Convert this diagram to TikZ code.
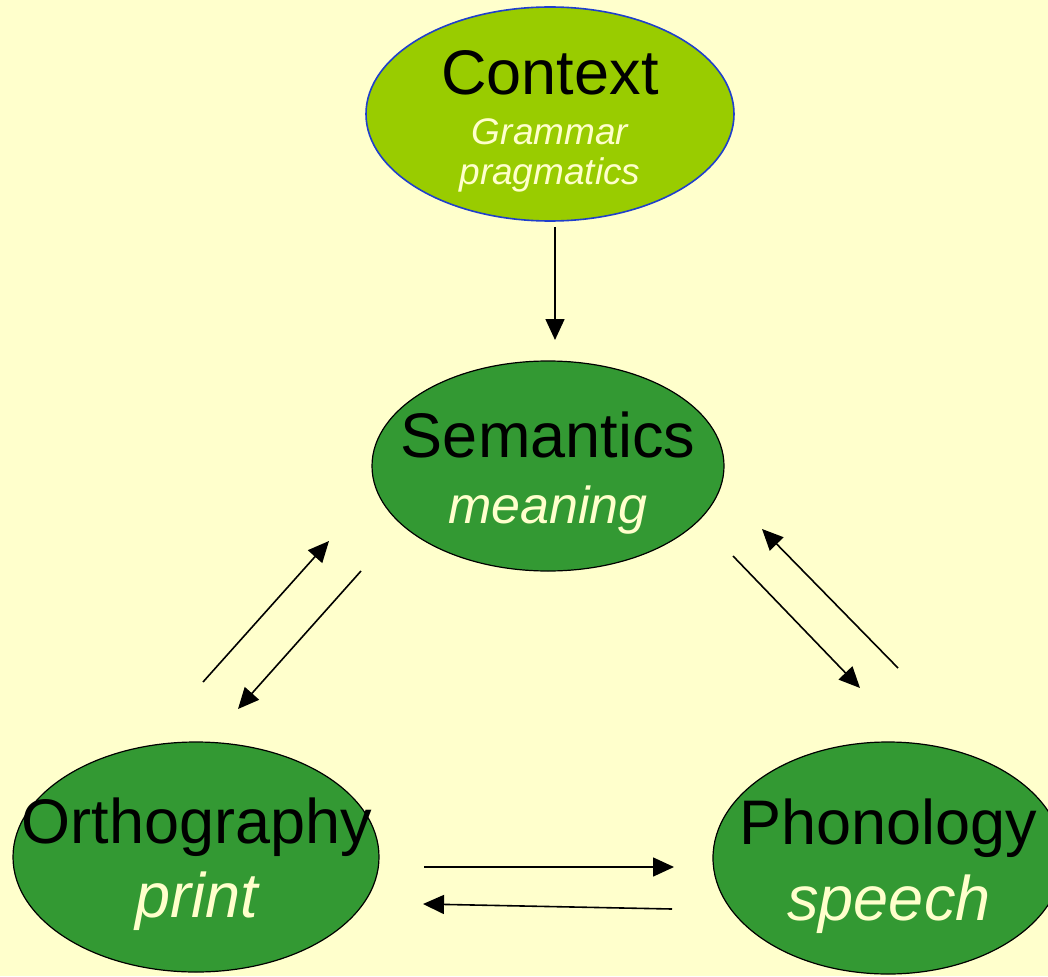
\documentclass[tikz,border=0pt]{standalone}
\usepackage{fontspec}
\setmainfont{Liberation Sans}
\usetikzlibrary{shapes.geometric,arrows.meta}
\definecolor{bgcream}{HTML}{FFFFCC}
\definecolor{ctxgreen}{HTML}{99CC00}
\definecolor{darkgreen}{HTML}{339933}
\definecolor{ctxblue}{HTML}{1F3FCC}
\tikzset{
  bubble/.style={ellipse, draw=black, line width=1.2pt, fill=darkgreen, inner sep=0pt},
  bigtext/.style={anchor=base, inner sep=0pt, text=black, font=\fontsize{63}{70}\selectfont},
  subtext/.style={anchor=base, inner sep=0pt, text=bgcream, font=\fontsize{63}{70}\selectfont\itshape},
  medtext/.style={anchor=base, inner sep=0pt, text=bgcream, font=\fontsize{52}{60}\selectfont\itshape},
  smalltext/.style={anchor=base, inner sep=0pt, text=bgcream, font=\fontsize{37}{44}\selectfont\itshape},
  link/.style={line width=1.6pt, -{Triangle[length=21pt,width=19pt]}}
}
\begin{document}
\begin{tikzpicture}[x=1pt,y=-1pt]
\fill[bgcream] (0,0) rectangle (1048,976);
\useasboundingbox (0,0) rectangle (1048,976);
% ellipses
\node[ellipse, draw=ctxblue, line width=1.6pt, fill=ctxgreen, inner sep=0pt, minimum width=368pt, minimum height=214pt] (ctx) at (550,114) {};
\node[bubble, minimum width=352pt, minimum height=210pt] (sem) at (548,466) {};
\node[bubble, minimum width=366pt, minimum height=230pt] (ort) at (196,857) {};
\node[bubble, minimum width=350pt, minimum height=232pt] (pho) at (888,858) {};
% texts
\node[bigtext] (ctxt) at (550,95) {Context};
\node[smalltext] (ctxa) at (550,145) {Grammar};
\node[smalltext] (ctxb) at (550,185) {pragmatics};
\node[bigtext] (semt) at (548,457) {Semantics};
\node[medtext] (sema) at (548,523) {meaning};
\node[bigtext] (ortt) at (197,843) {Orthography};
\node[subtext] (orta) at (197,917) {print};
\node[bigtext] (phot) at (888,844) {Phonology};
\node[subtext] (phoa) at (889,920) {speech};
% arrow end points
\coordinate (c1s) at (555,227); \coordinate (c1e) at (555,340);
\coordinate (os1) at (203,682); \coordinate (oe1) at (329,541);
\coordinate (so1) at (361,571); \coordinate (se1) at (238,709);
\coordinate (sp1) at (733,556); \coordinate (pe1) at (860,688);
\coordinate (ps1) at (898,668); \coordinate (pe2) at (762,529);
\coordinate (op1) at (424,867); \coordinate (oe2) at (674,867);
\coordinate (po1) at (672,909); \coordinate (pe3) at (423,904);
\draw[link] (c1s) -- (c1e);
\draw[link] (os1) -- (oe1);
\draw[link] (so1) -- (se1);
\draw[link] (sp1) -- (pe1);
\draw[link] (ps1) -- (pe2);
\draw[link] (op1) -- (oe2);
\draw[link] (po1) -- (pe3);
\end{tikzpicture}
\end{document}
